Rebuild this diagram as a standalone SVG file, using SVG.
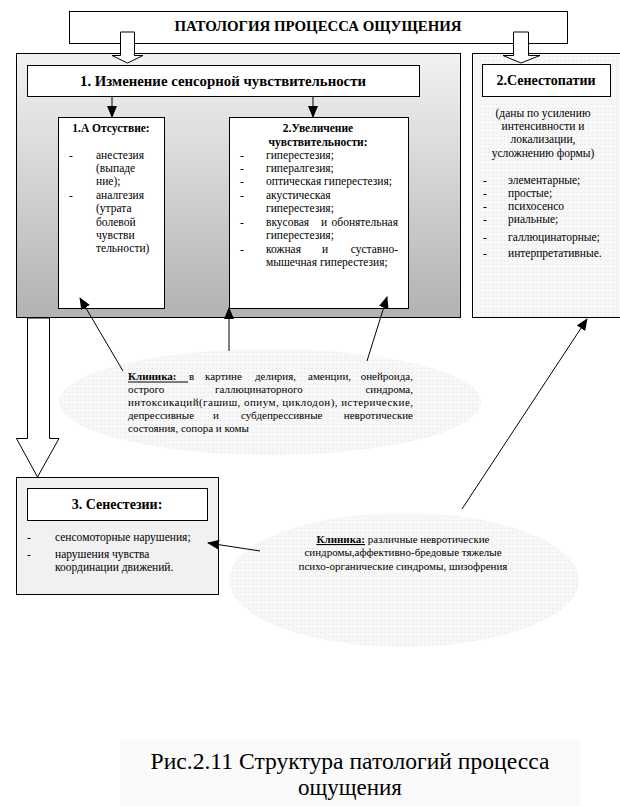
<svg xmlns="http://www.w3.org/2000/svg" width="620" height="806" viewBox="0 0 620 806">
<defs>
<linearGradient id="panelGrad" x1="0" y1="0" x2="0" y2="1">
<stop offset="0" stop-color="#f2f2f2"/>
<stop offset="1" stop-color="#b2b2b2"/>
</linearGradient>
<marker id="ah" markerWidth="12" markerHeight="10" refX="11" refY="5" orient="auto" markerUnits="userSpaceOnUse">
<path d="M0,0 L12,5 L0,10 z" fill="#000"/>
</marker>
<pattern id="dots" width="4" height="4" patternUnits="userSpaceOnUse">
<rect width="4" height="4" fill="#f7f7f7"/>
<rect width="1" height="1" fill="#e4e4e4"/>
</pattern>
</defs>
<style>
text{font-family:"Liberation Serif","Times New Roman",serif;fill:#000}
.box{fill:#fff;stroke:#000;stroke-width:1}
.b{font-weight:bold}
.s{font-size:11.5px}
.c{font-size:11px}
.m{text-anchor:middle}
.e{text-anchor:end}
.con{stroke:#000;stroke-width:1;fill:none}
.blk{fill:#fff;stroke:#000;stroke-width:1}
</style>

<rect x="120" y="740" width="460" height="66" fill="#fafafa"/>

<g id="panel1">
<rect x="16.5" y="53.5" width="444" height="264" fill="url(#panelGrad)" stroke="#000"/>
</g>
<g id="panel2">
<rect x="472.5" y="53.5" width="150" height="264" fill="url(#dots)" stroke="#000"/>
</g>

<g id="ellipses">
<ellipse cx="270" cy="402" rx="211" ry="53" fill="url(#dots)"/>
<ellipse cx="404" cy="580" rx="175" ry="67" fill="url(#dots)"/>
</g>

<g id="title">
<rect class="box" x="69.5" y="11.5" width="498" height="32"/>
<text x="318" y="31" class="b m" font-size="15" textLength="287" lengthAdjust="spacingAndGlyphs">ПАТОЛОГИЯ ПРОЦЕССА ОЩУЩЕНИЯ</text>
</g>

<g id="node1">
<rect class="box" x="27.5" y="65.5" width="392" height="31"/>
<text x="223" y="86" class="b m" font-size="14.5" textLength="286" lengthAdjust="spacingAndGlyphs">1. Изменение сенсорной чувствительности</text>
</g>

<g id="node1a">
<rect class="box" x="58.5" y="117.5" width="106" height="191"/>
<text x="111" y="132" class="b m s">1.А Отсуствие:</text>
<g class="s">
<text x="69" y="159">-</text>
<text x="96" y="159">анестезия</text>
<text x="96" y="172">(выпаде</text>
<text x="96" y="185">ние);</text>
<text x="69" y="199">-</text>
<text x="96" y="199">аналгезия</text>
<text x="96" y="212">(утрата</text>
<text x="96" y="226">болевой</text>
<text x="96" y="239">чувстви</text>
<text x="96" y="252">тельности)</text>
</g>
</g>

<g id="node1b">
<rect class="box" x="229.5" y="117.5" width="179" height="191"/>
<text x="318" y="132" class="b m s">2.Увеличение</text>
<text x="318" y="146" class="b m s">чувствительности:</text>
<g class="s">
<text x="240" y="159">-</text><text x="266" y="159">гиперестезия;</text>
<text x="240" y="172">-</text><text x="266" y="172">гипералгезия;</text>
<text x="240" y="185">-</text><text x="266" y="185">оптическая гиперестезия;</text>
<text x="240" y="199">-</text><text x="266" y="199">акустическая</text>
<text x="266" y="212">гиперестезия;</text>
<text x="240" y="226">-</text><text x="266" y="226">вкусовая</text><text x="321" y="226">и</text><text x="398" y="226" class="e">обонятельная</text>
<text x="266" y="239">гиперестезия;</text>
<text x="240" y="253">-</text><text x="266" y="253">кожная</text><text x="322" y="253">и</text><text x="398" y="253" class="e">суставно-</text>
<text x="266" y="266">мышечная гиперестезия;</text>
</g>
</g>

<g id="node2">
<rect class="box" x="482.5" y="64.5" width="128" height="32"/>
<text x="546" y="85" class="b m" font-size="14">2.Сенестопатии</text>
<g class="s">
<text x="543" y="117" class="m">(даны по усилению</text>
<text x="543" y="130" class="m">интенсивности и</text>
<text x="543" y="143" class="m">локализации,</text>
<text x="543" y="157" class="m">усложнению формы)</text>
<text x="483" y="184">-</text><text x="508" y="184">элементарные;</text>
<text x="483" y="197">-</text><text x="508" y="197">простые;</text>
<text x="483" y="210">-</text><text x="508" y="210">психосенсо</text>
<text x="483" y="223">-</text><text x="508" y="223">риальные;</text>
<text x="483" y="241">-</text><text x="508" y="241">галлюцинаторные;</text>
<text x="483" y="257">-</text><text x="508" y="257">интерпретативные.</text>
</g>
</g>

<g id="node3">
<rect x="16.5" y="477.5" width="202" height="117" fill="#f1f1f1" stroke="#000"/>
<rect class="box" x="27.5" y="488.5" width="180" height="32"/>
<text x="117" y="509" class="b m" font-size="14">3. Сенестезии:</text>
<g class="s">
<text x="27" y="541">-</text><text x="55" y="541">сенсомоторные нарушения;</text>
<text x="27" y="558">-</text><text x="55" y="558">нарушения чувства</text>
<text x="55" y="571">координации движений.</text>
</g>
</g>

<g id="clinic1" class="c">
<text x="128" y="380" class="b">Клиника: </text>
<line x1="128" y1="382" x2="188" y2="382" stroke="#000" stroke-width="1"/>
<text x="189" y="380">в</text>
<text x="205" y="380">картине</text>
<text x="255" y="380">делирия,</text>
<text x="308" y="380">аменции,</text>
<text x="413" y="380" class="e">онейроида,</text>
<text x="128" y="393">острого</text>
<text x="215" y="393">галлюцинаторного</text>
<text x="413" y="393" class="e">синдрома,</text>
<text x="128" y="406" textLength="285" lengthAdjust="spacing">интоксикаций(гашиш, опиум, циклодон), истерические,</text>
<text x="128" y="419">депрессивные</text>
<text x="213" y="419">и</text>
<text x="241" y="419">субдепрессивные</text>
<text x="413" y="419" class="e">невротические</text>
<text x="128" y="432">состояния, сопора и комы</text>
</g>

<g id="clinic2" class="c">
<text x="403" y="543" class="m"><tspan class="b" text-decoration="underline">Клиника:</tspan> различные невротические</text>
<text x="403" y="556" class="m">синдромы,аффективно-бредовые тяжелые</text>
<text x="403" y="570" class="m">психо-органические синдромы, шизофрения</text>
</g>

<g id="connectors">
<path class="blk" d="M120.5,32 H134.5 V55.5 H143 L127.5,63 L112,55.5 H120.5 Z"/>
<path class="blk" d="M513.5,32 H528.5 V55.5 H540 L521,63 L503,55.5 H513.5 Z"/>
<path class="blk" d="M27.5,318 H49.5 V438.5 H59 L37.5,477 L16.5,438.5 H27.5 Z"/>
<line class="con" x1="112" y1="97" x2="112" y2="117" marker-end="url(#ah)"/>
<line class="con" x1="313" y1="97" x2="313" y2="117" marker-end="url(#ah)"/>
<line class="con" x1="123" y1="371" x2="80" y2="298" marker-end="url(#ah)"/>
<line class="con" x1="229" y1="351" x2="229" y2="308" marker-end="url(#ah)"/>
<line class="con" x1="367" y1="361" x2="387" y2="297" marker-end="url(#ah)"/>
<line class="con" x1="462" y1="509" x2="587" y2="319" marker-end="url(#ah)"/>
<line class="con" x1="260" y1="551" x2="208" y2="543" marker-end="url(#ah)"/>
</g>

<g id="caption">
<text x="350" y="769" class="m" font-size="23" textLength="399" lengthAdjust="spacingAndGlyphs">Рис.2.11 Структура патологий процесса</text>
<text x="350" y="795" class="m" font-size="23">ощущения</text>
</g>
</svg>
